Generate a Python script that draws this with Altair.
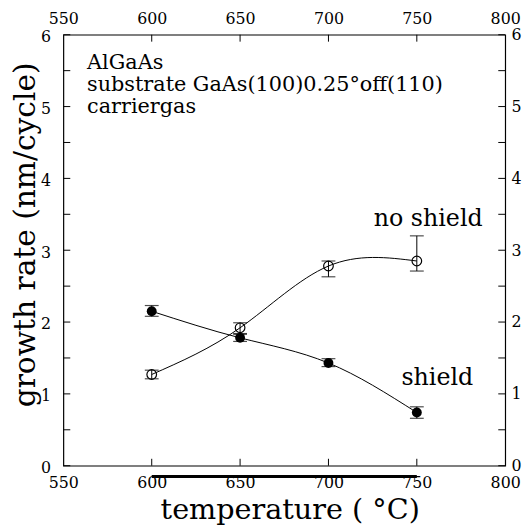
import altair as alt
import pandas as pd

# ---- data ----
temps = [600, 650, 700, 750]
shield_rate = [2.15, 1.78, 1.43, 0.74]
shield_lo = [2.08, 1.73, 1.38, 0.66]
shield_hi = [2.23, 1.84, 1.49, 0.82]
noshield_rate = [1.27, 1.92, 2.78, 2.85]
noshield_lo = [1.21, 1.83, 2.63, 2.71]
noshield_hi = [1.33, 1.99, 2.85, 3.20]

x_labels = [550, 600, 650, 700, 750, 800]
x_inner = [600, 650, 700, 750]
y_labels = [0, 1, 2, 3, 4, 5, 6]
y_minor = [0.5, 1.5, 2.5, 3.5, 4.5, 5.5]
bar_range = [600, 750]
info_lines = ["AlGaAs", "substrate GaAs(100)0.25\u00b0off(110)", "carriergas"]

W, H = 447, 436
FONT = "'DejaVu Serif', 'Liberation Serif', serif"

sh = pd.DataFrame({"temp": temps, "rate": shield_rate, "lo": shield_lo, "hi": shield_hi})
ns = pd.DataFrame({"temp": temps, "rate": noshield_rate, "lo": noshield_lo, "hi": noshield_hi})
both = pd.concat([sh, ns], ignore_index=True)

xs = alt.Scale(domain=[550, 800], nice=False, zero=False)
ys = alt.Scale(domain=[0, 6], nice=False, zero=False)

bottom_axis = alt.Axis(orient="bottom", values=x_labels, format="d", labelPadding=9,
                       labelFlush=False, title="temperature ( \u00b0C)", titleFontSize=29,
                       titleX=229, titleY=53, titleBaseline="alphabetic", titleAlign="center")
left_axis = alt.Axis(orient="left", values=y_labels, format="d", labelPadding=13, labelOffset=2,
                     labelFlush=False, title="growth rate (nm/cycle)", titleFontSize=30,
                     titleX=-38, titleY=202, titleAngle=270, titleBaseline="middle",
                     titleAlign="center")
top_axis = alt.Axis(orient="top", values=x_labels, format="d", labelPadding=8,
                    labelFlush=False, title=None)
right_axis = alt.Axis(orient="right", values=y_labels, format="d", labelPadding=6,
                      labelOffset=0, labelFlush=False, title=None)


def X(f):
    return alt.X(f, scale=xs, axis=None)


def Y(f):
    return alt.Y(f, scale=ys, axis=None)


# invisible layers that carry the four labelled axes
axes_bl = alt.Chart(both).mark_point(opacity=0).encode(
    x=alt.X("temp:Q", scale=xs, axis=bottom_axis), y=alt.Y("rate:Q", scale=ys, axis=left_axis))
axes_tr = alt.Chart(both).mark_point(opacity=0).encode(
    x=alt.X("temp:Q", scale=xs, axis=top_axis), y=alt.Y("rate:Q", scale=ys, axis=right_axis))

line_sh = alt.Chart(sh).mark_line(interpolate="natural", color="black", strokeWidth=1).encode(
    x=X("temp:Q"), y=Y("rate:Q"))
line_ns = alt.Chart(ns).mark_line(interpolate="natural", color="black", strokeWidth=1).encode(
    x=X("temp:Q"), y=Y("rate:Q"))

err = alt.Chart(both).mark_rule(color="black", strokeWidth=1).encode(
    x=X("temp:Q"), y=Y("lo:Q"), y2="hi:Q")
cap_lo = alt.Chart(both).mark_tick(orient="horizontal", size=14, thickness=1.2, color="black").encode(
    x=X("temp:Q"), y=Y("lo:Q"))
cap_hi = alt.Chart(both).mark_tick(orient="horizontal", size=14, thickness=1.2, color="black").encode(
    x=X("temp:Q"), y=Y("hi:Q"))

pts_sh = alt.Chart(sh).mark_point(shape="circle", filled=True, size=100, color="black", opacity=1).encode(
    x=X("temp:Q"), y=Y("rate:Q"))
pts_ns = alt.Chart(ns).mark_point(shape="circle", filled=False, size=95, color="black",
                                  strokeWidth=1.2, opacity=1).encode(x=X("temp:Q"), y=Y("rate:Q"))

xt = pd.DataFrame({"t": x_inner})
yt = pd.DataFrame({"v": y_labels + y_minor})
tick_b = alt.Chart(xt).mark_rule(color="black", strokeWidth=1).encode(
    x=X("t:Q"), y=alt.value(H), y2=alt.value(H - 7))
tick_t = alt.Chart(xt).mark_rule(color="black", strokeWidth=1).encode(
    x=X("t:Q"), y=alt.value(0), y2=alt.value(7))
tick_l = alt.Chart(yt).mark_rule(color="black", strokeWidth=1).encode(
    y=Y("v:Q"), x=alt.value(0), x2=alt.value(7))
tick_r = alt.Chart(yt).mark_rule(color="black", strokeWidth=1).encode(
    y=Y("v:Q"), x=alt.value(W), x2=alt.value(W - 7))

bar = alt.Chart(pd.DataFrame({"a": [bar_range[0]], "b": [bar_range[1]]})).mark_rule(
    color="black", strokeWidth=3).encode(x=X("a:Q"), x2="b:Q", y=alt.value(H + 11))

one = pd.DataFrame({"k": [0]})
info = alt.Chart(one).mark_text(
    align="left", baseline="alphabetic", font=FONT, fontSize=21, lineHeight=22, color="black").encode(
    x=alt.value(24), y=alt.value(35), text=alt.value(info_lines))
lab_ns = alt.Chart(one).mark_text(
    align="left", baseline="alphabetic", font=FONT, fontSize=24, color="black").encode(
    x=alt.value(378 - 64), y=alt.value(225 - 32), text=alt.value("no shield"))
lab_sh = alt.Chart(one).mark_text(
    align="left", baseline="alphabetic", font=FONT, fontSize=24, color="black").encode(
    x=alt.value(406 - 64), y=alt.value(386 - 32), text=alt.value("shield"))

chart = alt.layer(
    axes_bl, axes_tr, line_sh, line_ns, err, cap_lo, cap_hi, pts_sh, pts_ns,
    tick_b, tick_t, tick_l, tick_r, bar, info, lab_ns, lab_sh
).resolve_scale(x="independent", y="independent").properties(
    width=W, height=H,
    padding={"left": 56, "top": 24, "right": 17, "bottom": 62},
    autosize=alt.AutoSizeParams(type="none"),
    background="white",
).configure_view(stroke="black", strokeWidth=1.2).configure_axis(
    domain=False, ticks=False, grid=False, labelFont=FONT, labelFontSize=16, labelColor="black",
    titleFont=FONT, titleFontWeight="normal", titleColor="black")

chart.save("out.html", embed_options={"renderer": "svg", "actions": False})
